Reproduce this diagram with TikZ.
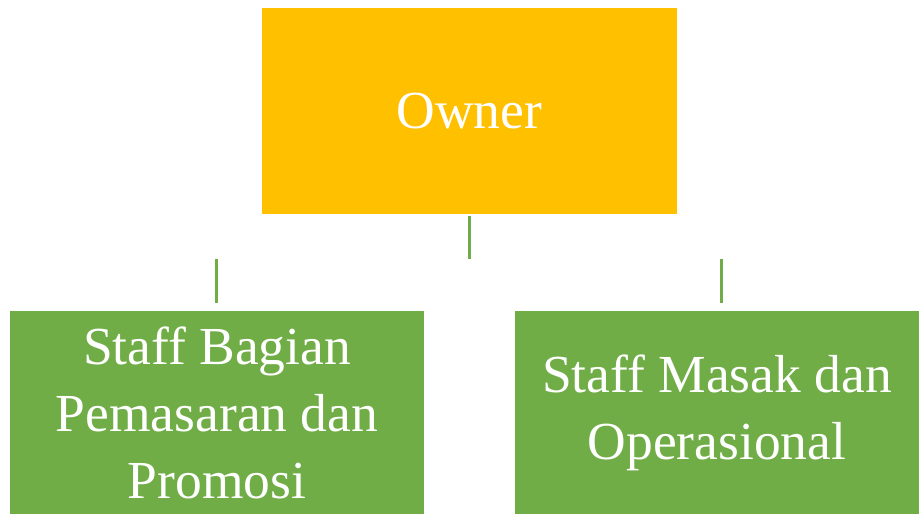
\documentclass[tikz,border=0pt]{standalone}
\usepackage{fontspec}
\setmainfont{Liberation Serif}
\usepackage{tikz}
\usetikzlibrary{positioning,calc}
\definecolor{ownergold}{HTML}{FFC000}
\definecolor{staffgreen}{HTML}{70AD47}

\begin{document}
\begin{tikzpicture}[x=1pt,y=-1pt,
  box/.style={rectangle,inner sep=0pt,text=white,align=center,
    font=\fontsize{53.5}{67}\selectfont},
  link/.style={draw=staffgreen,line width=3pt}]
  \useasboundingbox (0,0) rectangle (919,514);
  \node[box,fill=ownergold,minimum width=415pt,minimum height=206pt] (owner) at (469.5,111) {Owner};
  \node[box,fill=staffgreen,minimum width=414pt,minimum height=203pt] (promo) at (217,412.5) {Staff Bagian\\Pemasaran dan\\Promosi};
  \node[box,fill=staffgreen,minimum width=404pt,minimum height=203pt] (ops) at (717,412.5) {Staff Masak dan\\Operasional};
  \coordinate (ownerjoin) at (469.5,259);
  \coordinate (promojoin) at (216,259);
  \coordinate (opsjoin)   at (721,259);
  \path[link] ([yshift=-2pt]owner.south) -- (ownerjoin)
              (promojoin) -- ($(promo.north)+(-1,-8)$)
              (opsjoin) -- ($(ops.north)+(4,-8)$);
\end{tikzpicture}
\end{document}
